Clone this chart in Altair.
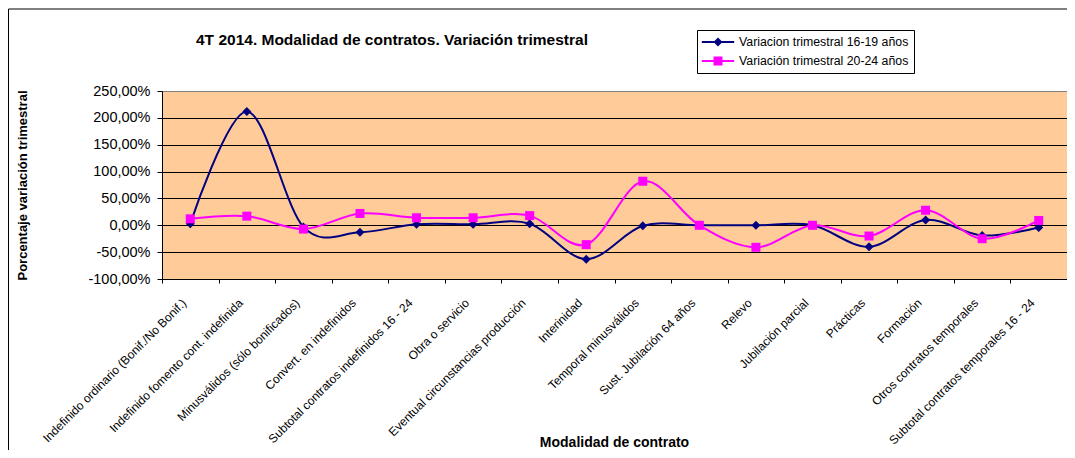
import altair as alt
import pandas as pd

categorias = [
    "Indefinido ordinario (Bonif./No Bonif.)",
    "Indefinido fomento cont. indefinida",
    "Minusválidos (sólo bonificados)",
    "Convert. en indefinidos",
    "Subtotal contratos indefinidos 16 - 24",
    "Obra o servicio",
    "Eventual circunstancias producción",
    "Interinidad",
    "Temporal minusválidos",
    "Sust. Jubilación 64 años",
    "Relevo",
    "Jubilación parcial",
    "Prácticas",
    "Formación",
    "Otros contratos temporales",
    "Subtotal contratos temporales 16 - 24",
]
var_16_19 = [3, 212, -3, -13, 2, 2, 3, -63, -1, 0, 0, 0, -40, 10, -19, -4]
var_20_24 = [12, 17, -7, 22, 14, 14, 18, -36, 82, 0, -41, 0, -20, 28, -25, 9]
series = ["Variacion trimestral 16-19 años", "Variación trimestral 20-24 años"]
colores = ["#000080", "#FF00FF"]
marcadores = ["diamond", "square"]
y_ticks = [-100, -50, 0, 50, 100, 150, 200, 250]

rows = []
for s, vals in zip(series, [var_16_19, var_20_24]):
    for i, (c, v) in enumerate(zip(categorias, vals)):
        rows.append({"categoria": c, "serie": s, "serie_m": s, "valor": v, "idx": i})
df = pd.DataFrame(rows)

FONT = "Liberation Sans"

x_enc = alt.X(
    "categoria:N",
    sort=categorias,
    scale=alt.Scale(type="band", paddingInner=0, paddingOuter=0),
    axis=alt.Axis(
        labelAngle=-45, labelAlign="right", labelBaseline="top",
        labelFont=FONT, labelFontSize=12, labelColor="black", labelLimit=400,
        labelOffset=-10, labelPadding=14,
        tickBand="extent", tickColor="black", tickSize=4,
        domainColor="black", grid=False,
        title="Modalidad de contrato", titleFont=FONT, titleFontSize=14,
        titleFontWeight="bold", titleColor="black",
        titleX=452, titleY=167, titleAlign="center", titleBaseline="alphabetic",
    ),
)
y_enc = alt.Y(
    "valor:Q",
    scale=alt.Scale(domain=[-100, 250], nice=False, zero=False),
    axis=alt.Axis(
        values=y_ticks,
        labelExpr="(datum.value < 0 ? '-' : '') + replace(format(abs(datum.value), '.2f'), '.', ',') + '%'",
        labelFont=FONT, labelFontSize=14.5, labelColor="black", labelPadding=7,
        tickColor="black", tickSize=5, domainColor="black",
        grid=True,
        gridColor={"condition": {"test": "datum.value === 250", "value": "#808080"}, "value": "black"},
        gridWidth=1, gridOpacity=1,
        title="Porcentaje variación trimestral", titleFont=FONT, titleFontSize=13,
        titleFontWeight="bold", titleColor="black",
        titleX=-140, titleY=94, titleAngle=-90, titleAlign="center", titleBaseline="middle",
    ),
)

base = alt.Chart(df)

lines = base.mark_line(interpolate="cardinal", tension=0, strokeWidth=2).encode(
    x=x_enc,
    y=y_enc,
    order=alt.Order("idx:Q"),
    stroke=alt.Stroke(
        "serie:N",
        scale=alt.Scale(range=colores),
        legend=alt.Legend(
            orient="none", legendX=535, legendY=-61, title=None,
            strokeColor="black", fillColor="white", padding=5, rowPadding=5,
            labelFont=FONT, labelFontSize=12.3, labelColor="black", labelLimit=400,
            symbolType="M-2.7,0H2.7", symbolSize=144, symbolStrokeWidth=2,
            symbolOffset=9, labelOffset=14, zindex=0,
        ),
    ),
)

leg_b = alt.Legend(
    orient="none", legendX=535, legendY=-61, title=None,
    padding=5, rowPadding=5, labelFont=FONT, labelFontSize=14, labelExpr="''",
    symbolSize=81, symbolStrokeWidth=0, symbolOffset=9, zindex=1,
)
points = base.mark_point(filled=True, size=81, opacity=1).encode(
    x=x_enc,
    y=y_enc,
    color=alt.Color("serie_m:N", scale=alt.Scale(range=colores), legend=leg_b),
    shape=alt.Shape("serie_m:N", scale=alt.Scale(range=marcadores), legend=leg_b),
)

frame = alt.Chart(alt.Data(values=[{"a": 1}])).mark_rect(
    fill="transparent", stroke="black", strokeWidth=1
).encode(
    x=alt.value(-153.5), x2=alt.value(1000), y=alt.value(-82), y2=alt.value(500)
)

chart = alt.layer(frame, lines, points).properties(
    width=905,
    height=188,
    padding={"left": 154, "top": 83, "right": 0, "bottom": 171},
    autosize=alt.AutoSizeParams(type="none"),
    background="white",
    title=alt.TitleParams(
        "4T 2014. Modalidad de contratos. Variación trimestral",
        anchor="start", frame="group", dx=34, dy=40, offset=0,
        font=FONT, fontSize=15.5, fontWeight="bold", color="black",
    ),
).configure_view(
    fill="#FFCC99", stroke="#808080", strokeWidth=1
)

chart.save("out.html", embed_options={"renderer": "svg", "actions": False})
